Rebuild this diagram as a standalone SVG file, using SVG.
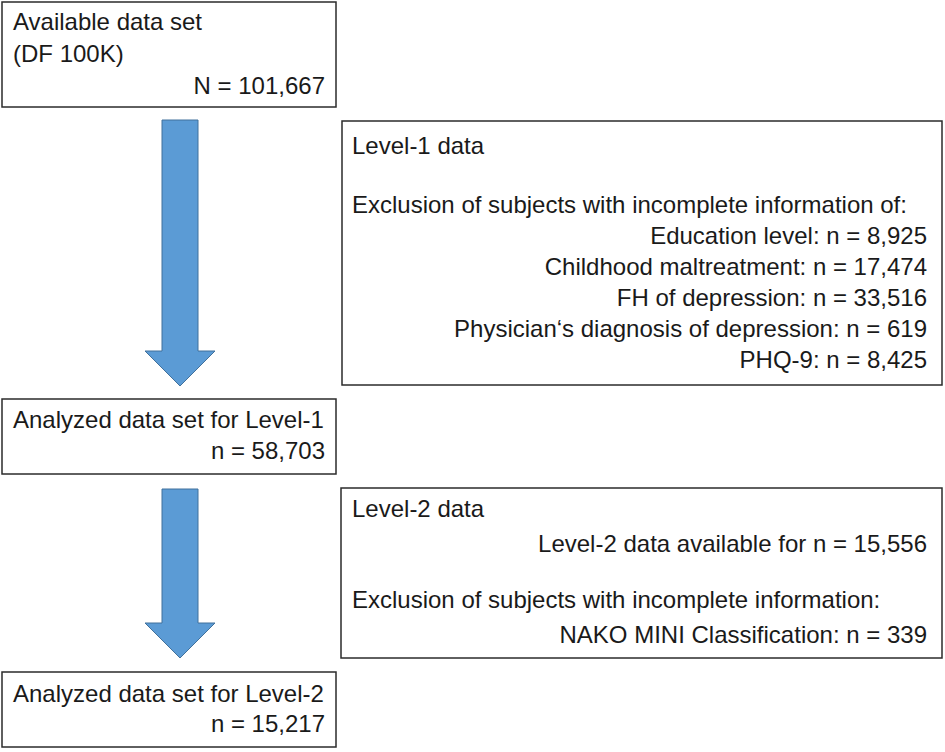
<svg xmlns="http://www.w3.org/2000/svg" width="945" height="752" viewBox="0 0 945 752">
<style>
.box{fill:#ffffff;stroke:#2b2b2b;stroke-width:1.5}
.t{font-family:"Liberation Sans",Arial,sans-serif;font-size:24px;fill:#1a1a1a}
.r{text-anchor:end}
.arrow{fill:#5b9bd5;stroke:#41719c;stroke-width:1}
</style>
<rect width="945" height="752" fill="#ffffff"/>
<g id="connectors">
<polygon class="arrow" points="162,120 198,120 198,351 215,351 180,386 145,351 162,351"/>
<polygon class="arrow" points="162,489 198,489 198,623 215,623 180,658 145,623 162,623"/>
</g>
<g id="available">
<rect class="box" x="2" y="2" width="334" height="105"/>
<text class="t" x="13" y="30">Available data set</text>
<text class="t" x="13" y="62">(DF 100K)</text>
<text class="t r" x="325" y="94">N = 101,667</text>
</g>
<g id="level1data">
<rect class="box" x="342" y="121" width="600" height="264"/>
<text class="t" x="352" y="154">Level-1 data</text>
<text class="t" x="352" y="213">Exclusion of subjects with incomplete information of:</text>
<text class="t r" x="927" y="244">Education level: n = 8,925</text>
<text class="t r" x="927" y="275">Childhood maltreatment: n = 17,474</text>
<text class="t r" x="927" y="306">FH of depression: n = 33,516</text>
<text class="t r" x="927" y="337">Physician‘s diagnosis of depression: n = 619</text>
<text class="t r" x="927" y="368">PHQ-9: n = 8,425</text>
</g>
<g id="analyzed1">
<rect class="box" x="2" y="399" width="334" height="75"/>
<text class="t" x="13" y="428">Analyzed data set for Level-1</text>
<text class="t r" x="325" y="459">n = 58,703</text>
</g>
<g id="level2data">
<rect class="box" x="341" y="488" width="601" height="170"/>
<text class="t" x="352" y="517">Level-2 data</text>
<text class="t r" x="927" y="552">Level-2 data available for n = 15,556</text>
<text class="t" x="352" y="608">Exclusion of subjects with incomplete information:</text>
<text class="t r" x="927" y="643">NAKO MINI Classification: n = 339</text>
</g>
<g id="analyzed2">
<rect class="box" x="2" y="672" width="334" height="75"/>
<text class="t" x="13" y="702">Analyzed data set for Level-2</text>
<text class="t r" x="325" y="732">n = 15,217</text>
</g>
</svg>
